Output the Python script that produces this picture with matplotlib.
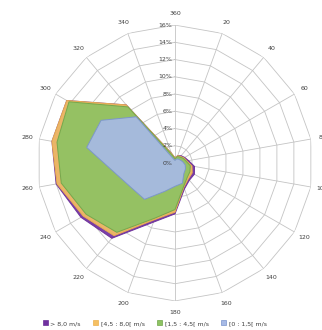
import numpy as np
import matplotlib
matplotlib.use('Agg')
from matplotlib import pyplot as plt
from matplotlib.patches import Patch

# Wind direction sectors (degrees) and cumulative frequency (%) per speed class
directions = [360, 20, 40, 60, 80, 100, 120, 140, 160, 180, 200, 220, 240, 260, 280, 300, 320, 340]
above_8 = [0.6, 0.9, 1.1, 1.3, 1.6, 2.3, 2.6, 2.6, 3.2, 5.9, 7.3, 11.4, 12.6, 14.0, 14.5, 14.5, 8.8, 1.2]
from_4_5 = [0.6, 0.9, 1.0, 1.2, 1.4, 2.0, 2.3, 2.4, 3.0, 5.7, 7.0, 11.0, 12.3, 13.9, 14.5, 14.5, 8.8, 1.2]
from_1_5 = [0.5, 0.8, 0.9, 1.1, 1.3, 1.8, 2.0, 2.2, 2.9, 5.4, 6.8, 10.5, 11.9, 13.4, 13.9, 14.2, 8.5, 1.0]
from_0 = [0.3, 0.5, 0.6, 0.7, 0.9, 1.2, 1.4, 1.6, 2.5, 2.7, 3.5, 5.5, 5.8, 7.0, 10.4, 9.9, 7.0, 0.5]
series_labels = ['> 8,0 m/s', '[4,5 : 8,0[ m/s', '[1,5 : 4,5[ m/s', '[0 : 1,5[ m/s']
rings = [0, 2, 4, 6, 8, 10, 12, 14, 16]

fill_colors = ['#7030A0', '#F5C063', '#8EC363', '#A7BAE6']
edge_colors = ['#6A2C98', '#EDB04C', '#6FA64A', '#7A94CC']
grid_color = '#C4C4C4'
text_color = '#404040'

fig = plt.figure(figsize=(3.22, 3.30), dpi=100)
ax = fig.add_axes([0.115, 0.088, 0.857, 0.836], projection='polar')
ax.set_theta_zero_location('N')
ax.set_theta_direction(-1)
ax.set_ylim(0, 16)
ax.grid(False)
ax.set_xticks([])
ax.set_yticks([])
ax.spines['polar'].set_visible(False)
ax.patch.set_alpha(0)

theta = np.deg2rad(np.array(directions) % 360)
theta_closed = np.append(theta, theta[0])

# polygon grid
for r in rings[1:]:
    ax.plot(theta_closed, [r] * len(theta_closed), color=grid_color, lw=0.6, zorder=1)
for t in theta:
    ax.plot([t, t], [0, rings[-1]], color=grid_color, lw=0.6, zorder=1)

# filled series, largest first
for i, vals in enumerate([above_8, from_4_5, from_1_5, from_0]):
    v = np.append(vals, vals[0])
    ax.fill(theta_closed, v, facecolor=fill_colors[i], edgecolor=edge_colors[i],
            lw=0.7, alpha=0.92, zorder=2 + i)

# radial labels
for r in rings:
    ax.annotate('%d%%' % r, xy=(0, r), xytext=(-2, 0), textcoords='offset points',
                ha='right', va='center', fontsize=4.5, color=text_color, zorder=10)

# direction labels
for d, t in zip(directions, theta):
    ax.text(t, 17.35, str(d), ha='center', va='center', fontsize=4.5,
            color=text_color, clip_on=False)

handles = [Patch(facecolor=fill_colors[i], edgecolor=edge_colors[i], lw=0.5)
           for i in range(4)]
fig.legend(handles, series_labels, loc='lower center', ncol=4, frameon=False,
           fontsize=4.5, bbox_to_anchor=(0.48, -0.005), handlelength=0.8,
           handleheight=0.8, handletextpad=0.4, columnspacing=2.0,
           labelcolor=text_color)

fig.savefig('out.png', dpi=100)
